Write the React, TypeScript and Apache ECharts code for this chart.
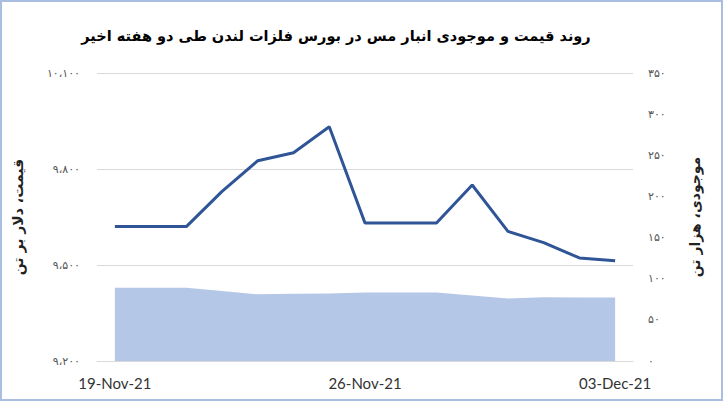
import React, { useEffect, useRef } from "react";
import * as echarts from "echarts";

const dates = [
  "19-Nov-21", "20-Nov-21", "21-Nov-21", "22-Nov-21", "23-Nov-21", "24-Nov-21", "25-Nov-21",
  "26-Nov-21", "27-Nov-21", "28-Nov-21", "29-Nov-21", "30-Nov-21", "01-Dec-21", "02-Dec-21", "03-Dec-21",
];
const priceValues = [9620, 9620, 9620, 9730, 9826, 9851, 9932, 9631, 9631, 9631, 9750, 9605, 9570, 9522, 9513];
const stockValues = [89, 89, 89, 85, 81, 81.7, 82, 83.3, 83.3, 83.3, 79.7, 76, 77.6, 77.3, 77.3];

const titleText = "روند قیمت و موجودی انبار مس در بورس فلزات لندن طی دو هفته اخیر";
const leftAxisName = "قیمت، دلار بر تن";
const rightAxisName = "موجودی، هزار تن";

const faDigits = "۰۱۲۳۴۵۶۷۸۹";
function toFa(n: number): string {
  const s = Math.round(n).toString().replace(/\B(?=(\d{3})+(?!\d))/g, "،");
  return s.replace(/\d/g, (d) => faDigits[Number(d)]);
}

const persianFont = "DejaVu Sans";

export default function App() {
  const ref = useRef<HTMLDivElement>(null);
  useEffect(() => {
    if (!ref.current) return;
    const chart = echarts.init(ref.current, undefined, { renderer: "svg" });
    chart.setOption({
      animation: false,
      backgroundColor: "#ffffff",
      title: {
        text: titleText,
        left: 331,
        top: 23,
        textAlign: "center",
        textStyle: { fontFamily: persianFont, fontSize: 14.5, fontWeight: "bold", color: "#000000" },
      },
      graphic: [
        {
          type: "rect",
          shape: { x: 1, y: 1, width: 721, height: 399 },
          style: { fill: "none", stroke: "#A9BEE1", lineWidth: 2 },
          silent: true,
        },
      ],
      grid: { left: 97, right: 91, top: 73, bottom: 41 },
      xAxis: {
        type: "category",
        data: dates,
        boundaryGap: true,
        axisTick: { show: false },
        axisLine: { lineStyle: { color: "#D9D9D9", width: 1 } },
        axisLabel: {
          interval: 6,
          margin: 14,
          fontFamily: "Lato",
          fontSize: 15,
          color: "#333333",
        },
        splitLine: { show: false },
      },
      yAxis: [
        {
          type: "value",
          min: 9200,
          max: 10100,
          interval: 300,
          position: "left",
          name: leftAxisName,
          nameLocation: "middle",
          nameGap: 72,
          nameRotate: 90,
          nameTextStyle: { fontFamily: persianFont, fontSize: 14, fontWeight: "bold", color: "#222222" },
          axisLine: { show: false },
          axisTick: { show: false },
          axisLabel: {
            margin: 17,
            fontFamily: persianFont,
            fontSize: 11,
            color: "#555555",
            formatter: (v: number) => toFa(v),
          },
          splitLine: { show: true, lineStyle: { color: "#D9D9D9", width: 1 } },
        },
        {
          type: "value",
          min: 0,
          max: 350,
          interval: 50,
          position: "right",
          name: rightAxisName,
          nameLocation: "middle",
          nameGap: 55,
          nameRotate: 90,
          nameTextStyle: { fontFamily: persianFont, fontSize: 14, fontWeight: "bold", color: "#222222" },
          axisLine: { show: false },
          axisTick: { show: false },
          axisLabel: {
            margin: 15,
            fontFamily: persianFont,
            fontSize: 11,
            color: "#555555",
            formatter: (v: number) => toFa(v),
          },
          splitLine: { show: false },
        },
      ],
      series: [
        {
          name: "stock",
          type: "line",
          yAxisIndex: 1,
          data: stockValues,
          symbol: "none",
          lineStyle: { width: 0, color: "#B4C7E7" },
          areaStyle: { color: "#B4C7E7", opacity: 1 },
          z: 1,
        },
        {
          name: "price",
          type: "line",
          yAxisIndex: 0,
          data: priceValues,
          symbol: "none",
          lineStyle: { width: 3, color: "#2F5597" },
          z: 3,
        },
      ],
    });
    return () => chart.dispose();
  }, []);
  return (
    <div
      ref={ref}
      style={{ position: "fixed", left: 0, top: 0, width: 724, height: 402 }}
    />
  );
}
